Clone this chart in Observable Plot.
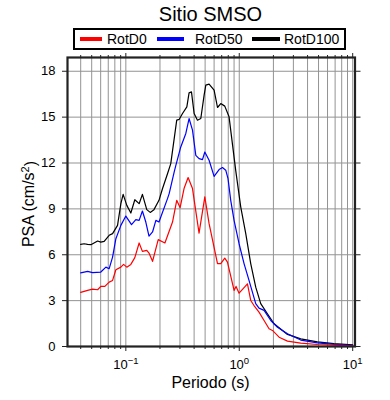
<!DOCTYPE html>
<html>
<head>
<meta charset="utf-8">
<script src="https://cdn.jsdelivr.net/npm/d3@7"></script>
<script src="https://cdn.jsdelivr.net/npm/@observablehq/plot@0.6"></script>
<style>
  html, body { margin: 0; padding: 0; background: #fff; }
  body { font-family: "Liberation Sans", Arial, Helvetica, sans-serif; color: #000; width: 390px; height: 400px; overflow: hidden; }
  #title { height: 28px; line-height: 28px; width: 421px; text-align: center; font-size: 20px; }
  #legend { position: relative; margin-left: 73px; width: 273px; height: 22px; box-sizing: border-box; border: 2px solid #000; }
  #legend .sw { position: absolute; top: 7px; height: 4px; }
  #legend .lb { position: absolute; top: 0; line-height: 18px; font-size: 14px; }
  #chart { margin-top: 2px; }
</style>
</head>
<body>
<div id="title">Sitio SMSO</div>
<div id="legend"></div>
<div id="chart"></div>
<script>
// ---- data ----
const seriesNames = ["RotD0", "RotD50", "RotD100"];
const seriesColors = ["#ff0000", "#0000ff", "#000000"];

const periodsD100 = [0.04,0.0429,0.046,0.0492,0.0564,0.0602,0.0644,0.0713,0.0764,0.0845,0.0904,0.0947,0.102,0.1107,0.120,0.131,0.140,0.153,0.164,0.177,0.196,0.210,0.233,0.249,0.281,0.295,0.316,0.345,0.361,0.379,0.400,0.428,0.458,0.490,0.507,0.542,0.600,0.643,0.687,0.745,0.813,0.931,1.031,1.141,1.262,1.397,1.546,1.771,2.028,2.661,3.484,4.887,6.842,10];
const rotD100 = [6.68,6.72,6.68,6.66,6.9,6.83,6.87,7.27,7.38,7.92,9.34,9.95,9.23,8.73,9.6,9.34,9.95,8.95,8.77,8.95,9.56,10.3,11.3,11.96,14.8,14.85,15.24,15.67,16.59,16.65,15.24,14.8,14.91,16.44,17.09,17.16,16.77,15.63,15.89,15.72,15.02,11.5,9.12,7.38,5.42,3.88,2.8,2.14,1.49,0.79,0.5,0.3,0.19,0.1];

const periodsD50 = [0.04,0.046,0.0509,0.0602,0.0667,0.0713,0.0764,0.0817,0.0904,0.1,0.1122,0.1225,0.131,0.140,0.150,0.160,0.172,0.184,0.196,0.233,0.241,0.267,0.276,0.305,0.338,0.361,0.387,0.414,0.442,0.474,0.497,0.542,0.600,0.664,0.711,0.760,0.796,0.841,0.900,0.996,1.102,1.219,1.397,1.493,1.655,1.896,2.172,2.661,3.484,4.887,6.842,10];
const rotD50 = [4.82,4.91,4.83,4.87,5.19,5.09,5.85,7.05,7.92,8.53,7.97,8.3,8.25,8.86,8.14,7.22,7.49,8.25,8.14,9.67,10.0,11.42,11.85,13.05,13.93,14.91,14.15,12.5,12.29,12.22,12.72,12.18,11.13,11.57,11.7,11.53,10.98,9.56,8.25,6.72,5.42,4.32,2.8,2.51,2.36,1.7,1.26,0.83,0.42,0.24,0.14,0.07];

const periodsD0 = [0.04,0.046,0.0509,0.0564,0.0602,0.0653,0.0713,0.0764,0.0817,0.0904,0.0955,0.102,0.1107,0.120,0.131,0.140,0.153,0.160,0.172,0.193,0.221,0.258,0.281,0.301,0.326,0.354,0.387,0.442,0.497,0.542,0.643,0.687,0.745,0.787,0.900,0.937,0.996,1.181,1.262,1.349,1.493,1.655,1.831,1.963,2.244,2.661,3.484,4.887,6.842,10];
const rotD0 = [3.54,3.67,3.75,3.71,3.93,3.93,4.21,4.32,5.02,5.19,5.37,5.19,5.37,5.81,6.77,6.22,6.29,6.11,5.57,6.99,6.77,8.14,9.56,9.08,10.33,11.05,10.33,7.42,9.78,8.03,5.42,5.42,5.78,5.52,3.67,3.93,3.49,4.1,3.01,2.68,2.25,1.7,1.16,1.05,0.61,0.35,0.22,0.13,0.09,0.04];

const majorXTicks = [0.1, 1, 10];
const minorXTicks = [0.04,0.05,0.06,0.07,0.08,0.09,0.2,0.3,0.4,0.5,0.6,0.7,0.8,0.9,2,3,4,5,6,7,8,9];
const yTicks = [0, 3, 6, 9, 12, 15, 18];
const xLabel = "Periodo (s)";
const yLabelMain = "PSA (cm/s";
const yLabelSup = "2";

// ---- legend (HTML, above the chart) ----
const legendLayout = [
  {sw: 5, w: 22, lb: 32},
  {sw: 82, w: 27, lb: 120},
  {sw: 177, w: 28, lb: 209}
];
const leg = d3.select("#legend");
seriesNames.forEach((name, i) => {
  leg.append("div").attr("class", "sw")
    .style("left", legendLayout[i].sw + "px").style("width", legendLayout[i].w + "px")
    .style("background", seriesColors[i]);
  leg.append("div").attr("class", "lb").style("left", legendLayout[i].lb + "px").text(name);
});

// ---- chart ----
const rows = [
  ...periodsD100.map((p, i) => ({T: p, psa: rotD100[i], s: "RotD100"})),
  ...periodsD50.map((p, i) => ({T: p, psa: rotD50[i], s: "RotD50"})),
  ...periodsD0.map((p, i) => ({T: p, psa: rotD0[i], s: "RotD0"}))
];

const axisColor = "#222";
const chart = Plot.plot({
  width: 390,
  height: 348,
  marginTop: 5,
  marginBottom: 54,
  marginLeft: 67,
  marginRight: 35.5,
  x: {type: "log", domain: [0.0306, 10.48]},
  y: {domain: [0, 18.9]},
  color: {domain: seriesNames, range: seriesColors},
  style: {fontFamily: "'Liberation Sans', Arial, Helvetica, sans-serif", fontSize: "13px", color: "#000", background: "#fff"},
  marks: [
    Plot.ruleX(minorXTicks.concat(majorXTicks), {stroke: "#939393", strokeWidth: 1}),
    Plot.ruleY(yTicks.slice(1), {stroke: "#939393", strokeWidth: 1}),
    Plot.line(rows, {x: "T", y: "psa", z: "s", stroke: "s", strokeWidth: 1.2}),
    Plot.axisX(minorXTicks, {anchor: "bottom", tickSize: 3, tickFormat: () => "", label: null, stroke: axisColor}),
    Plot.axisX(majorXTicks, {anchor: "bottom", tickSize: 5, tickPadding: 8, tickFormat: d => "10^" + Math.round(Math.log10(d)), label: null, stroke: axisColor}),
    Plot.axisX(minorXTicks, {anchor: "top", tickSize: 3, tickFormat: () => "", label: null, stroke: axisColor}),
    Plot.axisX(majorXTicks, {anchor: "top", tickSize: 5, tickFormat: () => "", label: null, stroke: axisColor}),
    Plot.axisY(yTicks, {anchor: "left", tickSize: 5, tickPadding: 7, label: null, stroke: axisColor}),
    Plot.axisY(yTicks, {anchor: "right", tickSize: 5, tickFormat: () => "", label: null, stroke: axisColor}),
    Plot.frame({stroke: axisColor, strokeWidth: 2.2})
  ]
});

document.getElementById("chart").appendChild(chart);

// superscript exponents on the x tick labels
d3.select(chart).selectAll("text").each(function () {
  const t = this.textContent;
  if (t.startsWith("10^")) {
    const exp = t.slice(3).replace("-", "\u2212");
    const sel = d3.select(this);
    sel.text("10");
    sel.append("tspan").attr("dy", "-0.5em").attr("font-size", "9.5px").text(exp);
  }
});

// axis titles
const svg = d3.select(chart);
svg.append("text")
  .attr("x", 210.5).attr("y", 336)
  .attr("text-anchor", "middle")
  .attr("font-size", "16px").attr("fill", "#000")
  .text(xLabel);
const yl = svg.append("text")
  .attr("transform", "translate(34,152) rotate(-90)")
  .attr("text-anchor", "middle")
  .attr("font-size", "16px").attr("fill", "#000");
yl.append("tspan").text(yLabelMain);
yl.append("tspan").attr("dy", "-0.45em").attr("font-size", "11px").text(yLabelSup);
yl.append("tspan").attr("dy", "0.45em").text(")");
</script>
</body>
</html>
